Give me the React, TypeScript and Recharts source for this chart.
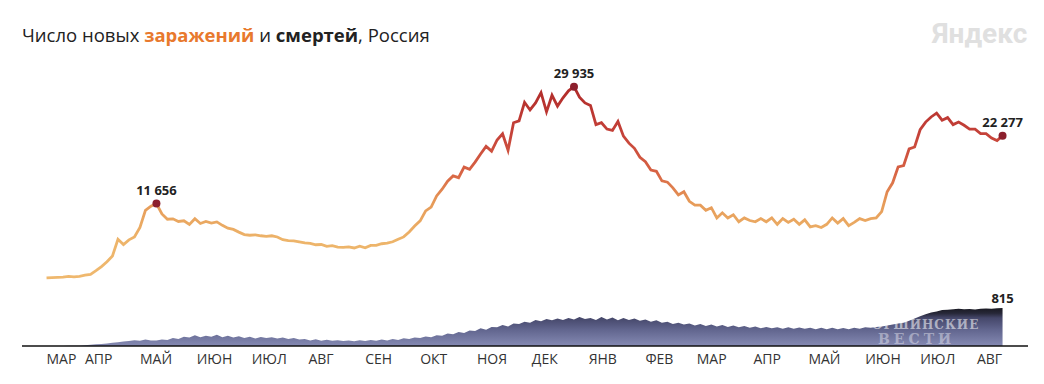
import React from 'react';
import { ComposedChart, Line, Area, XAxis, YAxis } from 'recharts';

// one value every 3 days, starting 11 March 2020
const STEP = 3;

const cases = [
    20, 60, 100, 150, 250, 180, 270, 440, 580, 1150,
    1790, 2550, 3450, 6060, 5240, 5970, 6410, 7930, 10580, 11230,
    11656, 10030, 9200, 9260, 8850, 8950, 8370, 9270, 8530, 8850,
    8600, 8780, 8240, 7790, 7600, 7180, 6800, 6690, 6760, 6610,
    6510, 6610, 6420, 6000, 5840, 5810, 5640, 5480, 5430, 5200,
    5240, 4940, 5060, 4840, 4800, 4870, 4700, 4980, 4730, 5110,
    5100, 5360, 5450, 5670, 6060, 6430, 7210, 8140, 8940, 10500,
    11100, 12850, 13900, 15150, 15980, 15700, 17350, 17000, 18140, 19400,
    20600, 19850, 21600, 22570, 20000, 24300, 24600, 27500, 26300, 27400,
    29000, 26000, 28600, 26900, 28200, 29300, 29935, 28300, 27400, 27000,
    24000, 24300, 23300, 23100, 24500, 22200, 21100, 20300, 18900, 18200,
    16900, 16700, 15200, 15000, 14100, 13000, 13500, 12000, 11400, 11400,
    10600, 11000, 9400, 10200, 9400, 9900, 8800, 9400, 9000, 8800,
    9300, 8800, 9400, 8400, 9300, 8700, 9200, 8400, 9100, 8000,
    8200, 7900, 8400, 9400, 8600, 9300, 8200, 8700, 9300, 9000,
    9300, 9400, 10400, 13500, 14900, 17400, 17600, 20200, 20500, 23200,
    24400, 25200, 25800, 24700, 25100, 24000, 24400, 23900, 23300, 23300,
    22600, 22600, 21900, 21500, 22277,
];

const deaths = [
    0, 0, 1, 2, 3, 5, 8, 15, 25, 35,
    45, 55, 70, 80, 95, 105, 125, 110, 140, 120,
    120, 140, 130, 170, 150, 200, 180, 230, 190, 220,
    200, 240, 190, 220, 180, 210, 170, 200, 160, 195,
    170, 190, 160, 180, 150, 170, 140, 150, 120, 145,
    115, 135, 110, 125, 105, 120, 100, 125, 105, 130,
    115, 140, 120, 150, 130, 165, 150, 180, 170, 205,
    190, 230, 220, 270, 250, 300, 280, 330, 320, 380,
    350, 410, 400, 450, 420, 480, 470, 520, 500, 560,
    530, 580, 550, 590, 560, 600, 570, 620, 580, 600,
    560, 620, 570, 610, 550, 600, 560, 590, 540, 570,
    520, 550, 500, 520, 470, 500, 460, 480, 440, 470,
    430, 460, 420, 450, 410, 440, 400, 430, 390, 420,
    380, 410, 380, 400, 370, 400, 370, 395, 370, 390,
    360, 390, 360, 390, 360, 385, 360, 390, 370, 400,
    390, 410, 420, 440, 460, 480, 500, 540, 590, 640,
    680, 720, 740, 770, 780, 790, 800, 790, 795, 785,
    800, 805, 800, 810, 815,
];

// days that carry a value label on the cases line
const markedDays = [60, 288, 522];

const tickDays = [0, 21, 51, 82, 112, 143, 174, 204, 235, 265, 296, 327, 355, 386, 416, 447, 477, 508];
const tickLabels = ['МАР', 'АПР', 'МАЙ', 'ИЮН', 'ИЮЛ', 'АВГ', 'СЕН', 'ОКТ', 'НОЯ', 'ДЕК', 'ЯНВ', 'ФЕВ', 'МАР', 'АПР', 'МАЙ', 'ИЮН', 'ИЮЛ', 'АВГ'];

const FONT = '"Open Sans", "Noto Sans", sans-serif';

const fmt = (v: number) => String(v).replace(/\B(?=(\d{3})+(?!\d))/g, ' ');

const rows = cases.map((c, i) => ({ day: i * STEP, cases: c, deaths: deaths[i] }));

const MonthTick = (props: any) => {
    const { x, y, payload } = props;
    const idx = tickDays.indexOf(payload.value);
    return (
        <text x={x} y={y + 10} textAnchor="start" fontSize={14} fill="#333" fontFamily={FONT}>
            {tickLabels[idx]}
        </text>
    );
};

const CaseDot = (props: any) => {
    const { cx, cy, payload, index } = props;
    if (!markedDays.includes(payload.day)) return <g key={`d${index}`} />;
    return (
        <g key={`d${index}`}>
            <circle cx={cx} cy={cy} r={4} fill="#8c1f2c" />
            <text x={cx} y={cy - 9} textAnchor="middle" fontSize={13} fontWeight={700} fill="#222" fontFamily={FONT}>
                {fmt(payload.cases)}
            </text>
        </g>
    );
};

const DeathDot = (props: any) => {
    const { cx, cy, payload, index } = props;
    if (index !== deaths.length - 1) return <g key={`a${index}`} />;
    return (
        <text key={`a${index}`} x={cx} y={cy - 5} textAnchor="middle" fontSize={13} fontWeight={700} fill="#222" fontFamily={FONT}>
            {fmt(payload.deaths)}
        </text>
    );
};

export default function App() {
    return (
        <div style={{ position: 'relative', width: 1028, height: 376, background: '#fff' }}>
            <div style={{ position: 'absolute', left: 14, top: 15, fontFamily: FONT, fontSize: 18.5, lineHeight: '24px', color: '#222', whiteSpace: 'nowrap' }}>
                Число новых <b style={{ color: '#e8792d' }}>заражений</b> и <b>смертей</b>, Россия
            </div>
            <div style={{ position: 'absolute', left: 924, top: 9, fontFamily: 'Roboto, sans-serif', fontWeight: 700, fontSize: 28, color: '#e0e0e0' }}>
                Яндекс
            </div>
            <ComposedChart width={1028} height={376} data={rows} margin={{ top: 52, right: 8, left: 14, bottom: 8 }}>
                <defs>
                    <linearGradient id="caseGrad" gradientUnits="userSpaceOnUse" x1={0} y1={80} x2={0} y2={270}>
                        <stop offset="0" stopColor="#b12c2a" />
                        <stop offset="0.25" stopColor="#c6433a" />
                        <stop offset="0.45" stopColor="#d86444" />
                        <stop offset="0.6" stopColor="#e69a58" />
                        <stop offset="0.8" stopColor="#edb46a" />
                        <stop offset="1" stopColor="#efb86e" />
                    </linearGradient>
                    <linearGradient id="deathGrad" gradientUnits="userSpaceOnUse" x1={0} y1={298} x2={0} y2={338}>
                        <stop offset="0" stopColor="#14141a" />
                        <stop offset="0.18" stopColor="#262737" />
                        <stop offset="0.3" stopColor="#45476a" />
                        <stop offset="0.6" stopColor="#62668f" />
                        <stop offset="1" stopColor="#858ab3" />
                    </linearGradient>
                </defs>
                <XAxis
                    dataKey="day"
                    type="number"
                    domain={[-13.4, 535.9]}
                    ticks={tickDays}
                    interval={0}
                    tick={<MonthTick />}
                    tickLine={false}
                    axisLine={{ stroke: '#111', strokeWidth: 1.5 }}
                    height={30}
                    allowDataOverflow
                />
                <YAxis yAxisId="cases" hide domain={[-10642, 34116]} allowDataOverflow />
                <YAxis yAxisId="deaths" hide domain={[0, 6134]} allowDataOverflow />
                <Area
                    yAxisId="deaths"
                    dataKey="deaths"
                    type="linear"
                    stroke="none"
                    fill="url(#deathGrad)"
                    fillOpacity={1}
                    dot={DeathDot}
                    activeDot={false}
                    isAnimationActive={false}
                />
                <Line
                    yAxisId="cases"
                    dataKey="cases"
                    type="linear"
                    stroke="url(#caseGrad)"
                    strokeWidth={2.8}
                    dot={CaseDot}
                    activeDot={false}
                    isAnimationActive={false}
                />
            </ComposedChart>
            <div style={{ position: 'absolute', left: 854, top: 310, width: 141, height: 28, overflow: 'hidden', pointerEvents: 'none', fontFamily: '"DejaVu Serif", serif', fontWeight: 700 }}>
                <div style={{ position: 'absolute', left: 10, top: 1, fontSize: 12, lineHeight: '13px', color: 'rgba(255,255,255,0.55)', letterSpacing: 1 }}>ОРШИНСКИЕ</div>
                <div style={{ position: 'absolute', left: 16, top: 15, fontSize: 14, lineHeight: '13px', color: 'rgba(255,255,255,0.4)', letterSpacing: 4 }}>ВЕСТИ</div>
            </div>
        </div>
    );
}
